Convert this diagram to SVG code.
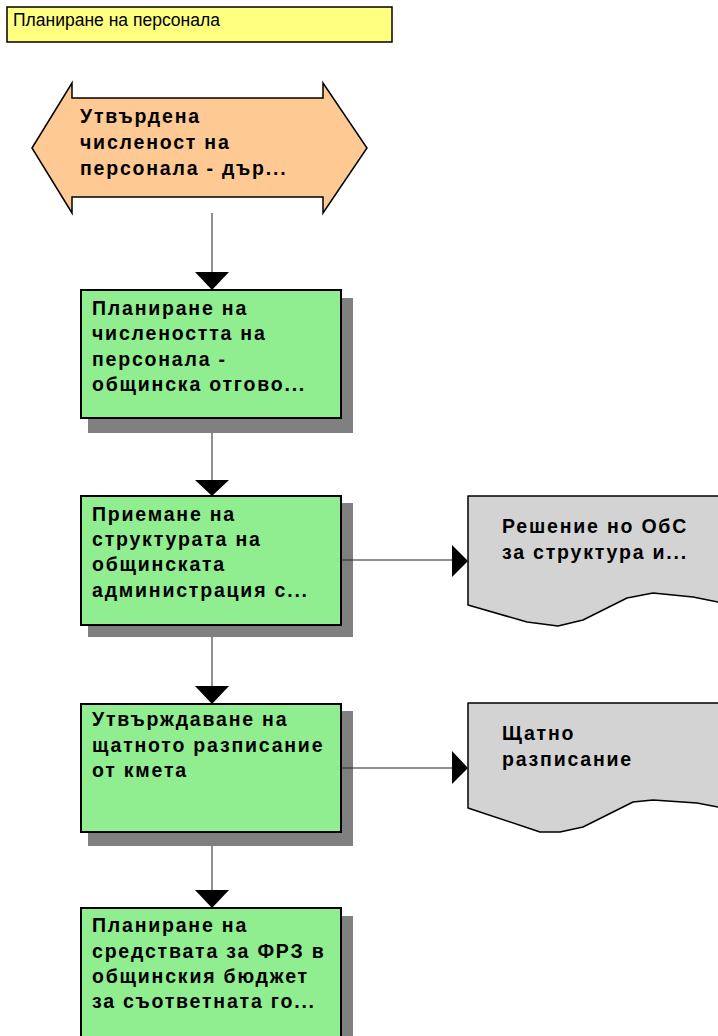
<svg xmlns="http://www.w3.org/2000/svg" width="718" height="1036" viewBox="0 0 718 1036">
  <style>
    .title { fill: #FFFF80; stroke: #000; stroke-width: 1.5; }
    .title-text { font-family: "Liberation Sans", Arial, sans-serif; font-size: 17.5px; fill: #000; }
    .event { fill: #FFC993; stroke: #000; stroke-width: 1.5; stroke-linejoin: miter; }
    .task { fill: #90EE90; stroke: #000; stroke-width: 2; }
    .shadow { fill: #808080; }
    .doc { fill: #D3D3D3; stroke: #000; stroke-width: 1.5; stroke-linejoin: round; }
    .label { font-family: "Liberation Sans", Arial, sans-serif; font-size: 19.5px; font-weight: bold; letter-spacing: 1.8px; fill: #000; }
    .flow { stroke: #222; stroke-width: 1; fill: none; }
    .head { fill: #000; }
  </style>

  <!-- process title -->
  <g id="title">
    <rect class="title" x="7" y="7" width="385" height="35"/>
    <text class="title-text" x="13" y="26">Планиране на персонала</text>
  </g>

  <!-- start event -->
  <g id="n-start">
    <polygon class="event" points="32,148 72,83 72,98 323,98 323,83 367,148 323,213 323,197 72,197 72,213"/>
    <text class="label" x="80" y="123">Утвърдена</text>
    <text class="label" x="80" y="149">численост на</text>
    <text class="label" x="80" y="175">персонала - дър...</text>
  </g>

  <!-- tasks -->
  <g id="n-plan-count">
    <rect class="shadow" x="88" y="298" width="265" height="135"/>
    <rect class="task" x="81" y="290" width="260" height="128"/>
    <text class="label" x="92" y="315">Планиране на</text>
    <text class="label" x="92" y="340">числеността на</text>
    <text class="label" x="92" y="366">персонала -</text>
    <text class="label" x="92" y="391">общинска отгово...</text>
  </g>

  <g id="n-structure">
    <rect class="shadow" x="88" y="503" width="265" height="134"/>
    <rect class="task" x="81" y="496" width="260" height="129"/>
    <text class="label" x="92" y="521">Приемане на</text>
    <text class="label" x="92" y="546">структурата на</text>
    <text class="label" x="92" y="571">общинската</text>
    <text class="label" x="92" y="597">администрация с...</text>
  </g>

  <g id="n-staff-schedule">
    <rect class="shadow" x="88" y="711" width="265" height="135"/>
    <rect class="task" x="81" y="704" width="260" height="128"/>
    <text class="label" x="92" y="726">Утвърждаване на</text>
    <text class="label" x="92" y="752">щатното разписание</text>
    <text class="label" x="92" y="777">от кмета</text>
  </g>

  <g id="n-budget">
    <rect class="shadow" x="88" y="916" width="265" height="135"/>
    <rect class="task" x="81" y="908" width="260" height="135"/>
    <text class="label" x="92" y="932">Планиране на</text>
    <text class="label" x="92" y="958">средствата за ФРЗ в</text>
    <text class="label" x="92" y="983">общинския бюджет</text>
    <text class="label" x="92" y="1008">за съответната го...</text>
  </g>

  <!-- documents -->
  <g id="n-decision">
    <path class="doc" d="M468,496 L730,496 L730,606 L718,602 L693,597 L653,593 L627,598 L583,620 L558,626 L527,622 L468,605 Z"/>
    <text class="label" x="502" y="533">Решение но ОбС</text>
    <text class="label" x="502" y="559">за структура и...</text>
  </g>

  <g id="n-schedule-doc">
    <path class="doc" d="M468,703 L730,703 L730,811 L718,807 L697,803 L653,800 L633,802 L583,827 L560,832 L540,832 L468,808 Z"/>
    <text class="label" x="502" y="740">Щатно</text>
    <text class="label" x="502" y="766">разписание</text>
  </g>

  <!-- connectors -->
  <g id="connectors">
    <line class="flow" x1="212" y1="213" x2="212" y2="272"/>
    <polygon class="head" points="195,272 229,272 212,290"/>

    <line class="flow" x1="212" y1="433" x2="212" y2="480"/>
    <polygon class="head" points="195,480 229,480 212,496"/>

    <line class="flow" x1="212" y1="637" x2="212" y2="686"/>
    <polygon class="head" points="195,686 229,686 212,704"/>

    <line class="flow" x1="212" y1="846" x2="212" y2="890"/>
    <polygon class="head" points="195,890 229,890 212,908"/>

    <line class="flow" x1="342" y1="560" x2="452" y2="560"/>
    <polygon class="head" points="452,545 452,577 468,561"/>

    <line class="flow" x1="342" y1="768" x2="452" y2="768"/>
    <polygon class="head" points="452,751 452,784 468,768"/>
  </g>
</svg>
